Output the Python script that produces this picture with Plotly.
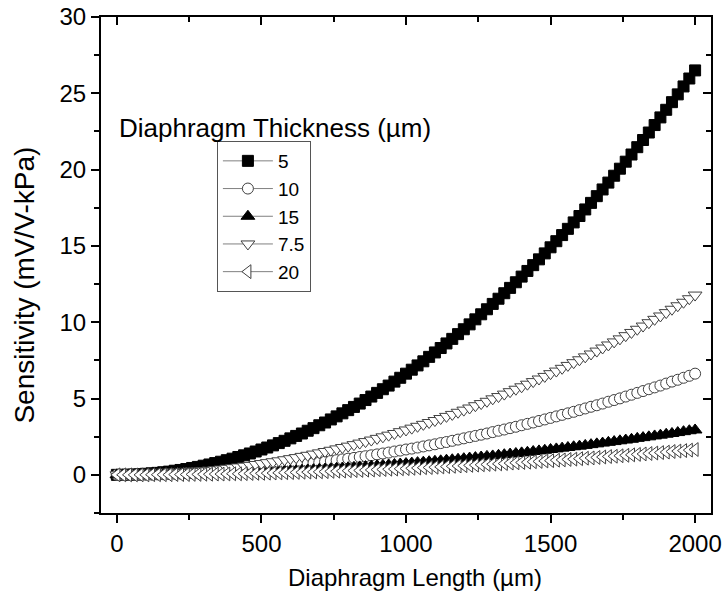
import plotly.graph_objects as go

# Diaphragm length (µm)
length_um = list(range(0, 2001, 20))

# Sensitivity (mV/V-kPa), one value per 20 µm
s_5 = [0.00, 0.00, 0.01, 0.02, 0.04, 0.07, 0.10, 0.13, 0.17, 0.21,
       0.27, 0.32, 0.38, 0.45, 0.52, 0.60, 0.68, 0.77, 0.86, 0.96,
       1.06, 1.17, 1.28, 1.40, 1.53, 1.66, 1.79, 1.93, 2.08, 2.23,
       2.39, 2.55, 2.71, 2.89, 3.06, 3.25, 3.43, 3.63, 3.83, 4.03,
       4.24, 4.45, 4.67, 4.90, 5.13, 5.37, 5.61, 5.85, 6.11, 6.36,
       6.63, 6.89, 7.17, 7.44, 7.73, 8.02, 8.31, 8.61, 8.91, 9.22,
       9.54, 9.86, 10.19, 10.52, 10.85, 11.20, 11.54, 11.90, 12.25, 12.62,
       12.99, 13.36, 13.74, 14.12, 14.51, 14.91, 15.31, 15.71, 16.12, 16.54,
       16.96, 17.39, 17.82, 18.26, 18.70, 19.15, 19.60, 20.06, 20.52, 20.99,
       21.47, 21.94, 22.43, 22.92, 23.42, 23.92, 24.42, 24.93, 25.45, 25.97,
       26.50]

s_10 = [0.00, 0.00, 0.00, 0.01, 0.01, 0.02, 0.02, 0.03, 0.04, 0.05,
        0.07, 0.08, 0.10, 0.11, 0.13, 0.15, 0.17, 0.19, 0.21, 0.24,
        0.27, 0.29, 0.32, 0.35, 0.38, 0.41, 0.45, 0.48, 0.52, 0.56,
        0.60, 0.64, 0.68, 0.72, 0.77, 0.81, 0.86, 0.91, 0.96, 1.01,
        1.06, 1.11, 1.17, 1.22, 1.28, 1.34, 1.40, 1.46, 1.53, 1.59,
        1.66, 1.72, 1.79, 1.86, 1.93, 2.00, 2.08, 2.15, 2.23, 2.31,
        2.39, 2.47, 2.55, 2.63, 2.71, 2.80, 2.89, 2.97, 3.06, 3.15,
        3.25, 3.34, 3.43, 3.53, 3.63, 3.73, 3.83, 3.93, 4.03, 4.13,
        4.24, 4.35, 4.46, 4.56, 4.67, 4.79, 4.90, 5.01, 5.13, 5.25,
        5.37, 5.49, 5.61, 5.73, 5.85, 5.98, 6.11, 6.23, 6.36, 6.49,
        6.63]

s_15 = [0.00, 0.00, 0.00, 0.00, 0.00, 0.01, 0.01, 0.01, 0.02, 0.02,
        0.03, 0.04, 0.04, 0.05, 0.06, 0.07, 0.08, 0.09, 0.10, 0.11,
        0.12, 0.13, 0.14, 0.16, 0.17, 0.18, 0.20, 0.21, 0.23, 0.25,
        0.27, 0.28, 0.30, 0.32, 0.34, 0.36, 0.38, 0.40, 0.43, 0.45,
        0.47, 0.49, 0.52, 0.54, 0.57, 0.60, 0.62, 0.65, 0.68, 0.71,
        0.74, 0.77, 0.80, 0.83, 0.86, 0.89, 0.92, 0.96, 0.99, 1.02,
        1.06, 1.10, 1.13, 1.17, 1.21, 1.24, 1.28, 1.32, 1.36, 1.40,
        1.44, 1.48, 1.53, 1.57, 1.61, 1.66, 1.70, 1.75, 1.79, 1.84,
        1.88, 1.93, 1.98, 2.03, 2.08, 2.13, 2.18, 2.23, 2.28, 2.33,
        2.39, 2.44, 2.49, 2.55, 2.60, 2.66, 2.71, 2.77, 2.83, 2.89,
        2.94]

s_7_5 = [0.00, 0.00, 0.00, 0.01, 0.02, 0.03, 0.04, 0.06, 0.08, 0.10,
         0.12, 0.14, 0.17, 0.20, 0.23, 0.27, 0.30, 0.34, 0.38, 0.43,
         0.47, 0.52, 0.57, 0.62, 0.68, 0.74, 0.80, 0.86, 0.92, 0.99,
         1.06, 1.13, 1.21, 1.28, 1.36, 1.44, 1.53, 1.61, 1.70, 1.79,
         1.88, 1.98, 2.08, 2.18, 2.28, 2.39, 2.49, 2.60, 2.71, 2.83,
         2.94, 3.06, 3.18, 3.31, 3.43, 3.56, 3.69, 3.83, 3.96, 4.10,
         4.24, 4.38, 4.53, 4.67, 4.82, 4.98, 5.13, 5.29, 5.45, 5.61,
         5.77, 5.94, 6.11, 6.28, 6.45, 6.63, 6.80, 6.98, 7.17, 7.35,
         7.54, 7.73, 7.92, 8.11, 8.31, 8.51, 8.71, 8.91, 9.12, 9.33,
         9.54, 9.75, 9.97, 10.19, 10.41, 10.63, 10.85, 11.08, 11.31, 11.54,
         11.78]

s_20 = [0.00, 0.00, 0.00, 0.00, 0.00, 0.00, 0.01, 0.01, 0.01, 0.01,
        0.02, 0.02, 0.02, 0.03, 0.03, 0.04, 0.04, 0.05, 0.05, 0.06,
        0.07, 0.07, 0.08, 0.09, 0.10, 0.10, 0.11, 0.12, 0.13, 0.14,
        0.15, 0.16, 0.17, 0.18, 0.19, 0.20, 0.21, 0.23, 0.24, 0.25,
        0.27, 0.28, 0.29, 0.31, 0.32, 0.34, 0.35, 0.37, 0.38, 0.40,
        0.41, 0.43, 0.45, 0.47, 0.48, 0.50, 0.52, 0.54, 0.56, 0.58,
        0.60, 0.62, 0.64, 0.66, 0.68, 0.70, 0.72, 0.74, 0.77, 0.79,
        0.81, 0.83, 0.86, 0.88, 0.91, 0.93, 0.96, 0.98, 1.01, 1.03,
        1.06, 1.09, 1.11, 1.14, 1.17, 1.20, 1.22, 1.25, 1.28, 1.31,
        1.34, 1.37, 1.40, 1.43, 1.46, 1.49, 1.53, 1.56, 1.59, 1.62,
        1.66]

series_names = ["5", "10", "15", "7.5", "20"]
series_values = [s_5, s_10, s_15, s_7_5, s_20]
symbols = ["square", "circle", "triangle-up", "triangle-down", "triangle-left"]
fills = ["black", "white", "black", "white", "white"]
edge = ["black", "#404040", "black", "#404040", "#404040"]
sizes = [11, 11, 12, 12, 12]

FONT = "Liberation Sans, Arial, sans-serif"

fig = go.Figure()
for name, vals, sym, fc, ec, sz in zip(series_names, series_values, symbols, fills, edge, sizes):
    fig.add_trace(go.Scatter(
        x=length_um, y=vals, name=name, mode="lines+markers",
        line=dict(color="#808080", width=1),
        marker=dict(symbol=sym, size=sz, color=fc, line=dict(color=ec, width=1)),
    ))

# invisible trace to anchor the mirrored (top/right) axes
fig.add_trace(go.Scatter(x=[0], y=[0], xaxis="x2", yaxis="y2", mode="markers",
                         marker=dict(opacity=0), showlegend=False, hoverinfo="skip"))

xr = [-55, 2055]
yr = [-2.5, 30]
xt = [0, 500, 1000, 1500, 2000]
xm = [250, 750, 1250, 1750]
yt = [0, 5, 10, 15, 20, 25, 30]
ym = [-2.5, 2.5, 7.5, 12.5, 17.5, 22.5, 27.5]

fig.update_layout(
    template="none",
    width=727, height=605,
    margin=dict(l=101, r=16, t=17, b=92),
    paper_bgcolor="white", plot_bgcolor="white",
    font=dict(family=FONT, color="black", size=20),
    xaxis=dict(range=xr, tickvals=xt, ticks="outside",
               ticklen=8, tickwidth=2, tickcolor="black",
               minor=dict(tickvals=xm, ticks="outside", ticklen=5, tickwidth=2, tickcolor="black", showgrid=False),
               showline=True, linecolor="black", linewidth=2, showgrid=False, zeroline=False,
               automargin=False, tickfont=dict(size=24)),
    yaxis=dict(range=yr, tickvals=yt, ticks="outside",
               ticklen=8, tickwidth=2, tickcolor="black",
               minor=dict(tickvals=ym, ticks="outside", ticklen=5, tickwidth=2, tickcolor="black", showgrid=False),
               showline=True, linecolor="black", linewidth=2, showgrid=False, zeroline=False,
               automargin=False, tickfont=dict(size=24)),
    xaxis2=dict(range=xr, overlaying="x", side="top", tickvals=xt,
                ticks="inside", ticklen=8, tickwidth=2, tickcolor="black",
                minor=dict(tickvals=xm, ticks="inside", ticklen=5, tickwidth=2, tickcolor="black", showgrid=False),
                showticklabels=False, showline=True, linecolor="black", linewidth=2,
                showgrid=False, zeroline=False, automargin=False),
    yaxis2=dict(range=yr, overlaying="y", side="right", tickvals=yt,
                ticks="inside", ticklen=8, tickwidth=2, tickcolor="black",
                minor=dict(tickvals=ym, ticks="inside", ticklen=5, tickwidth=2, tickcolor="black", showgrid=False),
                showticklabels=False, showline=True, linecolor="black", linewidth=2,
                showgrid=False, zeroline=False, automargin=False),
    legend=dict(x=0.190, y=0.750, xanchor="left", yanchor="top",
                bgcolor="white", bordercolor="#555555", borderwidth=1,
                font=dict(size=19), tracegroupgap=0, itemwidth=50),
    annotations=[
        dict(text="Diaphragm Thickness (µm)", xref="paper", yref="paper",
             x=0.026, y=0.776, xanchor="left", yanchor="middle",
             showarrow=False, font=dict(size=26)),
        dict(text="Sensitivity (mV/V-kPa)", xref="paper", yref="paper",
             x=-0.125, y=0.46, xanchor="center", yanchor="middle", textangle=-90,
             showarrow=False, font=dict(size=28)),
        dict(text="Diaphragm Length (µm)", xref="paper", yref="paper",
             x=0.515, y=-0.131, xanchor="center", yanchor="middle",
             showarrow=False, font=dict(size=24)),
    ],
    showlegend=True,
)

fig.write_html("out.html")
